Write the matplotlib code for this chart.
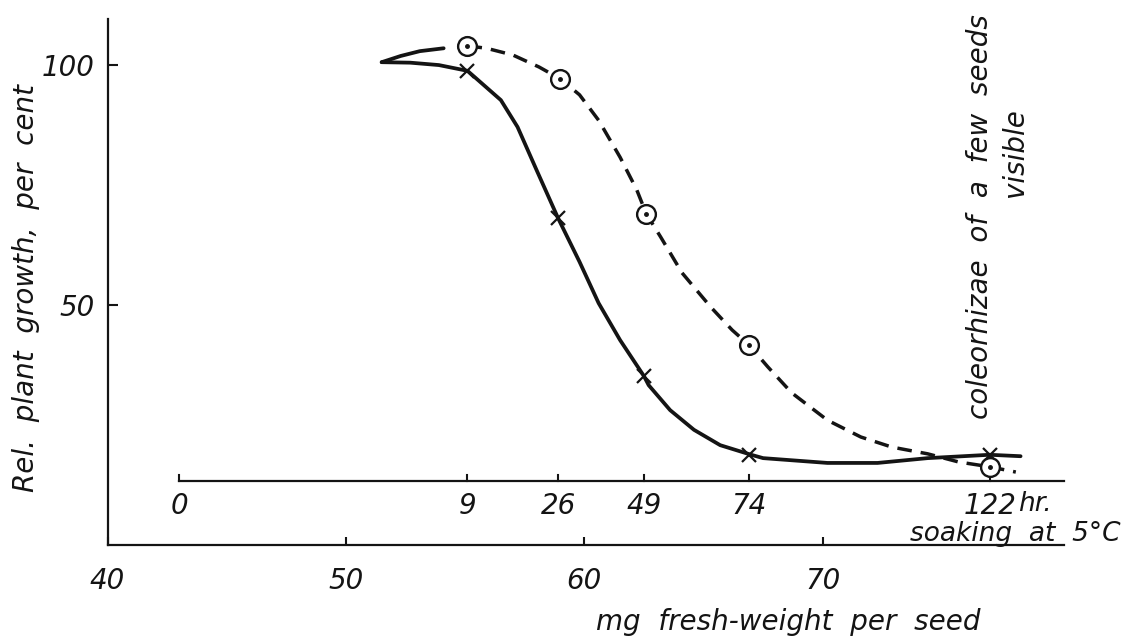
import matplotlib
matplotlib.use("Agg")
import matplotlib.pyplot as plt

# soaking time at 5 C and the fresh weight reached at that time
hours = [0, 9, 26, 49, 74, 122]
hour_weight = [43.0, 55.1, 58.9, 62.5, 66.9, 77.0]

# measured points (from 9 hr on)
cross_weight = [55.1, 58.9, 62.5, 66.9, 77.0]
cross_growth = [98.8, 68.1, 35.2, 18.8, 18.8]
circle_weight = [55.1, 59.0, 62.6, 66.9, 77.0]
circle_growth = [104.0, 97.1, 69.0, 41.7, 16.3]

# hand drawn curves
solid_x = [51.5, 52.7, 53.9, 55.1, 55.4, 56.5, 57.2, 58.0, 58.9, 59.8, 60.6, 61.5,
           62.5, 62.7, 63.6, 64.6, 65.7, 67.0, 67.5, 70.2, 72.3, 74.4, 77.0, 78.3]
solid_y = [100.6, 100.5, 100.0, 98.8, 97.5, 92.7, 87.1, 78.1, 68.1, 59.0, 50.4, 42.7,
           35.2, 33.3, 28.1, 24.0, 20.8, 18.8, 18.1, 17.1, 17.1, 18.1, 18.8, 18.5]
start_x = [51.5, 52.3, 53.1, 54.1]
start_y = [100.6, 101.9, 102.9, 103.5]
dashed_x = [55.1, 55.9, 57.0, 58.1, 59.0, 59.8, 60.6, 61.5, 62.2, 62.6, 63.2, 64.1,
            65.3, 66.2, 66.9, 67.7, 68.7, 70.2, 71.6, 72.9, 74.4, 75.7, 77.0, 78.1]
dashed_y = [104.0, 103.5, 102.1, 99.6, 97.1, 93.8, 88.5, 80.8, 74.0, 69.0, 64.2, 56.7,
            49.6, 44.8, 41.7, 37.1, 31.7, 26.0, 22.5, 20.4, 19.0, 17.3, 16.3, 15.2]

mg_ticks = [40, 50, 60, 70]
y_ticks = [50, 100]
hour_axis_y = 13.3

ink = "#141414"
fs = 20
plt.rcParams['font.family'] = ['DejaVu Sans']
plt.rcParams['font.style'] = 'italic'

fig = plt.figure(figsize=(11.3, 6.39), dpi=100)
ax = fig.add_axes([107.5 / 1130, 94 / 639, 956 / 1130, 526 / 639])
ax.set_xlim(40, 80.1)
ax.set_ylim(0, 109.6)

for s in ["top", "right"]:
    ax.spines[s].set_visible(False)
for s in ["left", "bottom"]:
    ax.spines[s].set_linewidth(1.6)
    ax.spines[s].set_color(ink)
ax.spines["bottom"].set_bounds(40, 80.1)

ax.set_xticks(mg_ticks)
ax.set_xticklabels([str(t) for t in mg_ticks])
ax.set_yticks(y_ticks)
ax.set_yticklabels([str(t) for t in y_ticks])
ax.tick_params(axis="x", direction="in", length=6, width=1.5, pad=16,
               labelsize=fs, colors=ink)
ax.tick_params(axis="y", direction="in", length=7, width=1.5, pad=9,
               labelsize=fs, colors=ink)

# soaking time axis inside the plot
ax.plot([hour_weight[0], 80.1], [hour_axis_y, hour_axis_y], color=ink, lw=1.6,
        clip_on=False)
for w, h in zip(hour_weight, hours):
    ax.plot([w, w], [hour_axis_y, hour_axis_y + 1.3], color=ink, lw=1.5)
    ax.text(w, 8.2, str(h), ha="center", va="center", fontsize=fs, color=ink)
ax.text(hour_weight[-1] + 1.2, 8.6, "hr.", ha="left", va="center", fontsize=fs - 1,
        color=ink)
ax.text(73.65, 0.9, "soaking  at  5°C", ha="left", va="baseline", fontsize=fs - 1,
        color=ink)

# curves
ax.plot(start_x, start_y, color=ink, lw=2.7, solid_capstyle="round")
ax.plot(solid_x, solid_y, color=ink, lw=2.7, solid_capstyle="round",
        solid_joinstyle="round")
ax.plot(dashed_x, dashed_y, color=ink, lw=2.5, linestyle=(0, (4.2, 2.6)))

ax.plot(cross_weight, cross_growth, linestyle="none", marker="x", ms=10, mew=1.6,
        color=ink)
ax.plot(circle_weight, circle_growth, linestyle="none", marker="o", ms=13.5, mew=1.7,
        mfc="white", mec=ink)
ax.plot(circle_weight, circle_growth, linestyle="none", marker="o", ms=2.5,
        color=ink)

ax.text(76.6, 68.5, "coleorhizae  of  a  few  seeds", rotation=90, ha="center",
        va="center", fontsize=fs, color=ink)
ax.text(78.05, 81.7, "visible", rotation=90, ha="center", va="center",
        fontsize=fs, color=ink)

fig.text(26 / 1130, 1 - 288 / 639, "Rel.  plant  growth,  per  cent", rotation=90,
         ha="center", va="center", fontsize=fs, color=ink)
fig.text(788 / 1130, 1 - 622 / 639, "mg  fresh-weight  per  seed", ha="center",
         va="center", fontsize=fs, color=ink)

fig.savefig("out.png", dpi=100, facecolor="white")
